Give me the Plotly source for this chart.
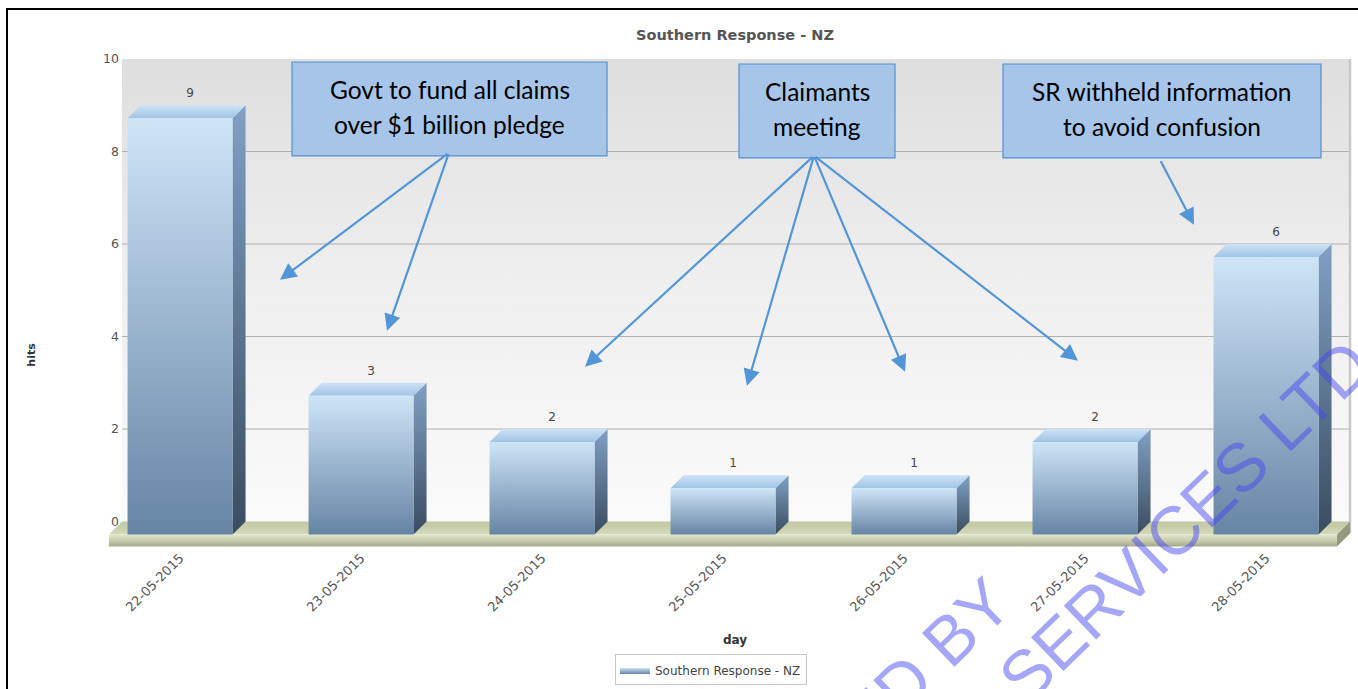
import plotly.graph_objects as go

# ---------------- data ----------------
days = ["22-05-2015", "23-05-2015", "24-05-2015", "25-05-2015",
        "26-05-2015", "27-05-2015", "28-05-2015"]
hits = [9, 3, 2, 1, 1, 2, 6]
y_ticks = [0, 2, 4, 6, 8, 10]
series_name = "Southern Response - NZ"
chart_title = "Southern Response - NZ"
x_title = "day"
y_title = "hits"
note_boxes = [
    ["Govt to fund all claims", "over $1 billion pledge"],
    ["Claimants", "meeting"],
    ["SR withheld information", "to avoid confusion"],
]
watermark_lines = ["ED BY", "SERVICES LTD"]

# ---------------- geometry / style ----------------
W, H = 1358, 689
ML, MR, MT, MB = 108, 6, 59, 141.5
PW, PH = W - ML - MR, H - MT - MB
X_RANGE = [-0.398, 6.475]
Y_RANGE = [-0.55, 10]
BW = 0.58      # front face width (category units)
DX = 0.072     # depth offset x
DY = 0.28      # depth offset y
WALL_L, WALL_R = -0.321, 6.464
FLOOR_BOTTOM = -0.54
FLOOR_BACK_BOTTOM = -0.26


def px2x(px):
    return (px - ML) / PW


def py2y(py):
    return (H - MB - py) / PH


fig = go.Figure()

# back wall with gradient
fig.add_trace(go.Scatter(
    x=[WALL_L, WALL_R, WALL_R, WALL_L, WALL_L],
    y=[0, 0, y_ticks[-1], y_ticks[-1], 0],
    mode="lines", line=dict(width=0), fill="toself",
    fillgradient=dict(type="vertical",
                      colorscale=[[0, "rgb(250,250,250)"], [0.55, "rgb(238,238,238)"],
                                  [1, "rgb(222,222,222)"]]),
    hoverinfo="skip", showlegend=False))

# gridlines on the back wall
gx, gy = [], []
for t in y_ticks[1:-1]:
    gx += [WALL_L, WALL_R, None]
    gy += [t, t, None]
fig.add_trace(go.Scatter(x=gx, y=gy, mode="lines",
                         line=dict(color="rgb(175,175,175)", width=1),
                         hoverinfo="skip", showlegend=False))
# right wall edge
fig.add_trace(go.Scatter(x=[WALL_R, WALL_R], y=[FLOOR_BACK_BOTTOM, y_ticks[-1]], mode="lines",
                         line=dict(color="rgb(200,200,200)", width=2.5),
                         hoverinfo="skip", showlegend=False))

# floor top
fig.add_trace(go.Scatter(
    x=[WALL_L, WALL_R, WALL_R - DX, WALL_L - DX, WALL_L],
    y=[0, 0, -DY, -DY, 0],
    mode="lines", line=dict(width=0), fill="toself",
    fillgradient=dict(type="vertical",
                      colorscale=[[0, "rgb(212,217,186)"], [1, "rgb(192,198,160)"]]),
    hoverinfo="skip", showlegend=False))
# floor front
fig.add_trace(go.Scatter(
    x=[WALL_L - DX, WALL_R - DX, WALL_R - DX, WALL_L - DX, WALL_L - DX],
    y=[-DY, -DY, FLOOR_BOTTOM, FLOOR_BOTTOM, -DY],
    mode="lines", line=dict(width=0), fill="toself",
    fillgradient=dict(type="vertical",
                      colorscale=[[0, "rgb(165,168,140)"], [0.5, "rgb(200,205,172)"],
                                  [1, "rgb(226,230,206)"]]),
    hoverinfo="skip", showlegend=False))
# floor right end
fig.add_trace(go.Scatter(
    x=[WALL_R - DX, WALL_R, WALL_R, WALL_R - DX, WALL_R - DX],
    y=[-DY, 0, FLOOR_BACK_BOTTOM, FLOOR_BOTTOM, -DY],
    mode="lines", line=dict(width=0), fill="toself", fillcolor="rgb(150,152,128)",
    hoverinfo="skip", showlegend=False))

# bars (3D: side, top, front)
for i, v in enumerate(hits):
    xl, xr = i - BW / 2, i + BW / 2
    # side face
    fig.add_trace(go.Scatter(
        x=[xr, xr + DX, xr + DX, xr, xr],
        y=[-DY, 0, v, v - DY, -DY],
        mode="lines", line=dict(width=0), fill="toself",
        fillgradient=dict(type="vertical",
                          colorscale=[[0, "rgb(58,76,96)"], [1, "rgb(128,160,196)"]]),
        hoverinfo="skip", showlegend=False))
    # top face
    fig.add_trace(go.Scatter(
        x=[xl, xr, xr + DX, xl + DX, xl],
        y=[v - DY, v - DY, v, v, v - DY],
        mode="lines", line=dict(width=0), fill="toself",
        fillgradient=dict(type="vertical",
                          colorscale=[[0, "rgb(160,196,230)"], [1, "rgb(205,226,245)"]]),
        hoverinfo="skip", showlegend=False))
    # front face
    fig.add_trace(go.Scatter(
        x=[xl, xr, xr, xl, xl],
        y=[-DY, -DY, v - DY, v - DY, -DY],
        mode="lines", line=dict(width=0), fill="toself",
        fillgradient=dict(type="vertical",
                          colorscale=[[0, "rgb(102,132,164)"], [1, "rgb(206,229,248)"]]),
        name=series_name, legendgroup="s", showlegend=(i == 0),
        hovertemplate=f"{days[i]}: {v}<extra></extra>"))

# data labels
fig.add_trace(go.Scatter(
    x=[i + 0.055 for i in range(len(hits))],
    y=[v + 0.24 for v in hits],
    mode="text", text=[str(v) for v in hits],
    textfont=dict(family="DejaVu Sans", size=12, color="#444"),
    textposition="middle center", hoverinfo="skip", showlegend=False))

# ---------------- annotations ----------------
annotations = []
# axis titles
annotations.append(dict(text=f"<b>{x_title}</b>", x=px2x(735), y=py2y(641), xref="paper", yref="paper",
                        xanchor="center", yanchor="middle",
                        showarrow=False, font=dict(family="DejaVu Sans", size=12, color="#333")))
annotations.append(dict(text=f"<b>{y_title}</b>", x=px2x(32), y=py2y(355), xref="paper", yref="paper",
                        xanchor="center", yanchor="middle",
                        showarrow=False, textangle=-90,
                        font=dict(family="DejaVu Sans", size=11, color="#333")))

# note boxes
box_px = [(292, 62, 607, 156), (739, 64, 895, 158), (1003, 64, 1321, 158)]
shapes = []
for (x0, y0, x1, y1), lines in zip(box_px, note_boxes):
    shapes.append(dict(type="rect", xref="paper", yref="paper",
                       x0=px2x(x0), x1=px2x(x1), y0=py2y(y1), y1=py2y(y0),
                       fillcolor="rgb(166,197,233)", line=dict(color="rgb(84,144,208)", width=1.2),
                       layer="above"))
    cx = (x0 + x1) / 2
    for k, ln in enumerate(lines):
        annotations.append(dict(text=ln, x=px2x(cx), y=py2y(y0 + 27.5 + 35.5 * k), xref="paper", yref="paper",
                                xanchor="center", yanchor="middle", showarrow=False,
                                font=dict(family="Lato", size=24.5, color="black")))

# arrows (head px, tail px)
arrows = [((280, 280), (449, 153)), ((387, 331), (449, 153)),
          ((585, 367), (814, 156)), ((747, 386), (814, 156)),
          ((905, 372), (814, 156)), ((1078, 361), (814, 156)),
          ((1194, 225), (1160, 160))]
for (hx, hy), (tx, ty) in arrows:
    annotations.append(dict(text="", x=px2x(hx), y=py2y(hy), xref="paper", yref="paper",
                            ax=tx - hx, ay=ty - hy, showarrow=True, arrowhead=2,
                            arrowsize=1.5, arrowwidth=2.2, arrowcolor="rgb(83,150,215)", standoff=0))

# watermark
wm_centers = [(926, 662), (1184, 521)]
for txt, (cx, cy) in zip(watermark_lines, wm_centers):
    annotations.append(dict(text=txt, x=px2x(cx), y=py2y(cy), xref="paper", yref="paper",
                            showarrow=False, textangle=-44, xanchor="center", yanchor="middle",
                            font=dict(family="Liberation Sans", size=68, color="rgba(70,70,240,0.48)")))

# frame border
shapes.append(dict(type="rect", xref="paper", yref="paper",
                   x0=px2x(7), x1=px2x(1372), y0=py2y(700), y1=py2y(9),
                   line=dict(color="black", width=2), fillcolor="rgba(0,0,0,0)", layer="above"))

fig.update_layout(
    width=W, height=H,
    margin=dict(l=ML, r=MR, t=MT, b=MB, pad=0, autoexpand=False),
    paper_bgcolor="white", plot_bgcolor="white",
    title=dict(text=f"<b>{chart_title}</b>", x=px2x(735), xref="paper", xanchor="center",
               y=1 - 35 / H, yref="container", yanchor="middle", automargin=False,
               font=dict(family="DejaVu Sans", size=14.5, color="#555")),
    xaxis=dict(range=X_RANGE, tickmode="array", tickvals=list(range(len(days))), ticktext=days,
               tickangle=-45, showgrid=False, zeroline=False, showline=False, ticks="",
               automargin=False,
               tickfont=dict(family="DejaVu Sans", size=13, color="#555"), fixedrange=True),
    yaxis=dict(range=Y_RANGE, tickmode="array", tickvals=y_ticks, showgrid=False, zeroline=False,
               showline=False, ticks="", ticklabelstandoff=-12, automargin=False,
               tickfont=dict(family="DejaVu Sans", size=12.5, color="#555"), fixedrange=True),
    legend=dict(orientation="h", x=px2x(711), y=py2y(655), xanchor="center", yanchor="top",
                xref="paper", yref="paper",
                bordercolor="rgb(200,200,200)", borderwidth=1, bgcolor="white",
                font=dict(family="DejaVu Sans", size=12, color="#444")),
    annotations=annotations,
    shapes=shapes,
    showlegend=True,
)

fig.write_html("out.html", config={"displayModeBar": False},
               post_script="document.body.style.margin='0';document.body.style.overflow='hidden';")
